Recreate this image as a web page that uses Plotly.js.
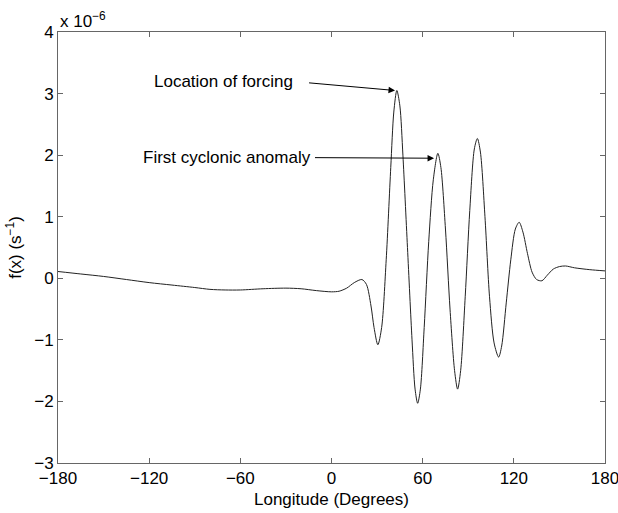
<!DOCTYPE html>
<html>
<head>
<meta charset="utf-8">
<script src="https://cdn.plot.ly/plotly-3.0.1.min.js"></script>
<style>html,body{margin:0;padding:0;background:#fff}#chart{width:618px;height:513px}</style>
</head>
<body>
<div id="chart"></div>
<script>
// Longitude (degrees)
const longitude = [-180,-165,-150,-135,-120,-105,-90,-80,-70,-60,-45,-30,-20,-10,0,5,10,15,20,23,26,28,30.5,33,36,39,41,43,45,47,50,53,55,56.7,58.5,61,64,67,70,72,75,78,81,83,85,88,91,94,96,98,101,104,107,110,112,115,118,121,123.5,126,129,132,135,138.5,142,146,150,154,160,170,180];
// f(x) in units of 1e-6 s^-1
const fValues = [0.11,0.07,0.03,-0.02,-0.07,-0.11,-0.15,-0.18,-0.19,-0.19,-0.17,-0.16,-0.17,-0.2,-0.22,-0.21,-0.16,-0.07,-0.02,-0.1,-0.45,-0.8,-1.08,-0.8,0.3,1.8,2.7,3.05,2.8,2.0,0.5,-1.0,-1.8,-2.03,-1.8,-0.8,0.6,1.6,2.03,1.8,0.8,-0.5,-1.5,-1.8,-1.5,-0.3,1.1,2.1,2.27,2.05,1.0,-0.3,-1.05,-1.28,-1.1,-0.4,0.3,0.8,0.91,0.75,0.4,0.1,-0.02,-0.04,0.05,0.15,0.19,0.2,0.17,0.14,0.12];
const xTicks = [-180,-120,-60,0,60,120,180];
const yTicks = [-3,-2,-1,0,1,2,3,4];
const labels = ["Location of forcing","First cyclonic anomaly"];
const arrowHeads = [[41.8,3.05],[67.5,1.95]];
const arrowTails = [[-17.4,3.18],[-13.5,1.96]];
const labelPos = [[-71.4,3.2],[-68.8,1.96]];

const font = {family:"Liberation Sans, Arial, sans-serif", size:17, color:"#000"};
const axisCommon = {showgrid:false, zeroline:false, showline:true, linecolor:"#666", linewidth:1,
  mirror:"ticks", ticks:"inside", ticklen:5, tickcolor:"#666", tickfont:font, ticklabeloverflow:"allow"};

const annotations = [];
labels.forEach((t,i)=>{
  annotations.push({x:labelPos[i][0], y:labelPos[i][1], xref:"x", yref:"y", text:t, showarrow:false, font:font});
  annotations.push({x:arrowHeads[i][0], y:arrowHeads[i][1], xref:"x", yref:"y", text:" ",
    showarrow:true, axref:"x", ayref:"y", ax:arrowTails[i][0], ay:arrowTails[i][1],
    arrowhead:2, arrowsize:1.3, arrowwidth:1, arrowcolor:"#000", standoff:0, startstandoff:0});
});
annotations.push({x:0, y:1, xref:"paper", yref:"paper", xanchor:"left", yanchor:"bottom", yshift:-1,
  text:"x 10<sup>−6</sup>", showarrow:false, font:font});

Plotly.newPlot("chart", [{
  x: longitude, y: fValues, type:"scatter", mode:"lines",
  line:{color:"#222", width:1, shape:"spline", smoothing:0.8}
}], {
  width:618, height:513,
  margin:{l:58, r:13, t:32, b:50},
  paper_bgcolor:"#fff", plot_bgcolor:"#fff",
  showlegend:false,
  font:font,
  xaxis:Object.assign({}, axisCommon, {range:[-180,180], tickvals:xTicks,
    title:{text:"Longitude (Degrees)", font:font, standoff:5}}),
  yaxis:Object.assign({}, axisCommon, {range:[-3,4], tickvals:yTicks,
    title:{text:"f(x) (s<sup>−1</sup>)", font:font, standoff:8}}),
  annotations: annotations
}, {staticPlot:true});
</script>
</body>
</html>
